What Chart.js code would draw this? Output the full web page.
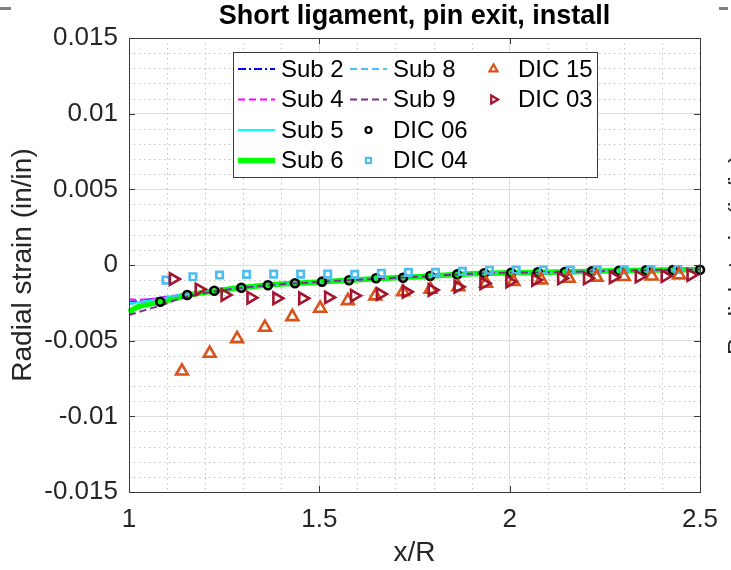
<!DOCTYPE html>
<html>
<head>
<meta charset="utf-8">
<script src="https://cdn.jsdelivr.net/npm/chart.js@4.4.0/dist/chart.umd.min.js"></script>
<style>
  html, body { margin: 0; padding: 0; background: #fff; }
  #wrap { width: 731px; height: 570px; }
</style>
</head>
<body>
<div id="wrap"><canvas id="strainChart" width="731" height="570"></canvas></div>
<script>
// axis ticks
const xTicks = [1, 1.5, 2, 2.5];
const xTickLabels = ['1', '1.5', '2', '2.5'];
const yTicks = [-0.015, -0.01, -0.005, 0, 0.005, 0.01, 0.015];
const yTickLabels = ['-0.015', '-0.01', '-0.005', '0', '0.005', '0.01', '0.015'];

// model curves (Sub runs)
const lineX = [1.00, 1.02, 1.04, 1.06, 1.08, 1.10, 1.13, 1.16, 1.20, 1.25, 1.30, 1.40, 1.50, 1.60, 1.70, 1.80, 1.90, 2.00, 2.10, 2.20, 2.30, 2.40, 2.50];
const sub2 = [-0.00243, -0.0024, -0.00232, -0.00225, -0.00218, -0.0021, -0.00198, -0.00187, -0.00176, -0.00162, -0.00149, -0.00126, -0.00112, -0.00097, -0.00085, -0.00072, -0.00058, -0.00051, -0.00048, -0.00043, -0.00037, -0.00033, -0.0003];
const sub4 = [-0.00228, -0.00229, -0.00228, -0.00224, -0.00219, -0.00211, -0.00199, -0.00188, -0.00176, -0.00162, -0.00149, -0.00126, -0.00112, -0.00097, -0.00085, -0.00072, -0.00058, -0.00051, -0.00048, -0.00043, -0.00037, -0.00033, -0.0003];
const sub5 = [-0.0025, -0.00247, -0.0024, -0.00232, -0.00224, -0.00215, -0.002, -0.00189, -0.00177, -0.00163, -0.00149, -0.00126, -0.00112, -0.00097, -0.00085, -0.00072, -0.00058, -0.00051, -0.00048, -0.00043, -0.00037, -0.00033, -0.0003];
const sub6 = [-0.0031, -0.0028, -0.00265, -0.00255, -0.00245, -0.00233, -0.00215, -0.00198, -0.0018, -0.00163, -0.00149, -0.00126, -0.00112, -0.00097, -0.00085, -0.00072, -0.00058, -0.00051, -0.00048, -0.00043, -0.00037, -0.00033, -0.0003];
const sub8 = [-0.0026, -0.00252, -0.00244, -0.00235, -0.00226, -0.00216, -0.00201, -0.0019, -0.00178, -0.00163, -0.00149, -0.00126, -0.00112, -0.00097, -0.00085, -0.00072, -0.00058, -0.00051, -0.00048, -0.00043, -0.00037, -0.00033, -0.0003];
const sub9 = [-0.0033, -0.00315, -0.003, -0.00285, -0.0027, -0.00253, -0.00225, -0.00205, -0.00185, -0.00165, -0.0015, -0.00127, -0.00112, -0.00097, -0.00085, -0.00072, -0.00058, -0.00051, -0.00048, -0.00043, -0.00037, -0.00033, -0.0003];

// DIC measurements
const dic06X = [1.082, 1.153, 1.224, 1.295, 1.365, 1.436, 1.507, 1.578, 1.649, 1.720, 1.791, 1.862, 1.933, 2.004, 2.074, 2.145, 2.216, 2.287, 2.358, 2.429, 2.500];
const dic06 = [-0.00243, -0.00198, -0.0017, -0.0015, -0.00134, -0.00121, -0.0011, -0.00101, -0.00088, -0.00084, -0.00073, -0.00062, -0.00055, -0.00051, -0.00048, -0.00046, -0.00042, -0.00038, -0.00035, -0.00033, -0.00031];
const dic04X = [1.097, 1.168, 1.238, 1.309, 1.380, 1.451, 1.522, 1.593, 1.663, 1.734, 1.805, 1.876, 1.947, 2.017, 2.088, 2.159, 2.230, 2.301, 2.371, 2.442];
const dic04 = [-0.001, -0.00078, -0.00066, -0.00062, -0.0006, -0.0006, -0.0006, -0.00062, -0.00055, -0.00049, -0.00049, -0.00042, -0.00035, -0.00033, -0.00033, -0.00033, -0.00032, -0.00032, -0.0003, -0.0003];
const dic15X = [1.139, 1.212, 1.284, 1.357, 1.429, 1.502, 1.575, 1.647, 1.720, 1.792, 1.865, 1.938, 2.010, 2.083, 2.155, 2.228, 2.300, 2.373, 2.445];
const dic15 = [-0.00701, -0.00584, -0.00487, -0.00412, -0.00342, -0.00286, -0.00236, -0.00205, -0.00177, -0.00161, -0.00144, -0.00121, -0.0011, -0.00099, -0.00088, -0.00081, -0.00077, -0.00073, -0.00066];
const dic03X = [1.116, 1.184, 1.252, 1.320, 1.388, 1.456, 1.524, 1.592, 1.660, 1.728, 1.796, 1.864, 1.932, 2.000, 2.068, 2.136, 2.204, 2.272, 2.340, 2.408, 2.476];
const dic03 = [-0.00093, -0.00161, -0.00198, -0.00216, -0.0022, -0.0022, -0.00214, -0.00203, -0.00192, -0.00177, -0.00165, -0.00144, -0.00121, -0.0011, -0.00099, -0.00088, -0.00088, -0.00081, -0.00077, -0.00073, -0.00066];

const FONT = "'Liberation Sans', Arial, Helvetica, sans-serif";
Chart.defaults.font.family = FONT;

const pts = (xs, ys) => xs.map((x, i) => ({ x: x, y: ys[i] }));

function curve(label, ys, color, width, dash, order) {
  return {
    label: label, data: pts(lineX, ys), borderColor: color, backgroundColor: color,
    borderWidth: width, borderDash: dash, pointRadius: 0, order: order,
    cubicInterpolationMode: 'monotone', clip: false
  };
}
function markers(label, xs, ys, color, style, radius, rotation, order) {
  return {
    label: label, data: pts(xs, ys), showLine: false, borderColor: color,
    backgroundColor: 'rgba(0,0,0,0)', pointBorderColor: color, pointBackgroundColor: 'rgba(0,0,0,0)',
    pointStyle: style, pointRadius: radius, pointRotation: rotation, pointBorderWidth: 2.6,
    order: order, clip: false
  };
}

const datasets = [
  curve('Sub 2', sub2, '#0000ff', 2, [8, 3, 2, 3], 10),
  curve('Sub 4', sub4, '#ff00ff', 2, [7, 4], 9),
  curve('Sub 5', sub5, '#00ffff', 2, [], 8),
  curve('Sub 6', sub6, '#00ff00', 5.5, [], 7),
  curve('Sub 8', sub8, '#4dbeee', 2, [7, 4], 6),
  curve('Sub 9', sub9, '#7e2f8e', 2, [7, 4], 5),
  markers('DIC 06', dic06X, dic06, '#000000', 'circle', 4, 0, 4),
  markers('DIC 04', dic04X, dic04, '#4dbeee', 'rect', 4.6, 0, 3),
  markers('DIC 15', dic15X, dic15, '#d95319', 'triangle', 6.8, 0, 2),
  markers('DIC 03', dic03X, dic03, '#a2142f', 'triangle', 6.6, 90, 1)
];

const legendCols = [['Sub 2', 'Sub 4', 'Sub 5', 'Sub 6'], ['Sub 8', 'Sub 9', 'DIC 06', 'DIC 04'], ['DIC 15', 'DIC 03']];

const matlabLook = {
  id: 'matlabLook',
  beforeDatasetsDraw(chart) {
    const { ctx, chartArea: a, scales: { x, y } } = chart;
    ctx.save();
    ctx.strokeStyle = '#c4c4c4';
    ctx.lineWidth = 1;
    ctx.setLineDash([1.5, 3.5]);
    ctx.beginPath();
    for (let v = 1.1; v < 2.5; v += 0.1) {
      if (Math.abs(v * 2 - Math.round(v * 2)) < 1e-6) continue;
      const px = Math.round(x.getPixelForValue(v)) + 0.5;
      ctx.moveTo(px, a.top); ctx.lineTo(px, a.bottom);
    }
    for (let k = -14; k <= 14; k++) {
      if (k % 5 === 0) continue;
      const py = Math.round(y.getPixelForValue(k / 1000)) + 0.5;
      ctx.moveTo(a.left, py); ctx.lineTo(a.right, py);
    }
    ctx.stroke();
    ctx.restore();
  },
  afterDatasetsDraw(chart) {
    const { ctx, chartArea: a, scales: { x, y } } = chart;
    ctx.save();
    // axes box + inner ticks
    ctx.strokeStyle = '#3a3a3a';
    ctx.lineWidth = 1;
    ctx.strokeRect(Math.round(a.left) + 0.5, Math.round(a.top) + 0.5, Math.round(a.right - a.left), Math.round(a.bottom - a.top));
    ctx.beginPath();
    xTicks.forEach(v => {
      const px = Math.round(x.getPixelForValue(v)) + 0.5;
      ctx.moveTo(px, a.bottom); ctx.lineTo(px, a.bottom - 6);
      ctx.moveTo(px, a.top); ctx.lineTo(px, a.top + 6);
    });
    yTicks.forEach(v => {
      const py = Math.round(y.getPixelForValue(v)) + 0.5;
      ctx.moveTo(a.left, py); ctx.lineTo(a.left + 6, py);
      ctx.moveTo(a.right, py); ctx.lineTo(a.right - 6, py);
    });
    ctx.stroke();

    // legend
    const bx = 233.5, by = 52.5, bw = 364, bh = 125;
    ctx.fillStyle = '#ffffff';
    ctx.fillRect(bx, by, bw, bh);
    ctx.strokeStyle = '#3a3a3a';
    ctx.strokeRect(bx, by, bw, bh);
    const colX = [238, 350, 475];
    ctx.font = '24px ' + FONT;
    ctx.textBaseline = 'middle';
    ctx.textAlign = 'left';
    legendCols.forEach((col, c) => {
      col.forEach((name, r) => {
        const ds = chart.data.datasets.find(d => d.label === name);
        const xs = colX[c], yc = 69 + r * 30.5;
        if (ds.showLine === false) {
          ctx.save();
          ctx.strokeStyle = ds.pointBorderColor;
          ctx.fillStyle = 'rgba(0,0,0,0)';
          ctx.lineWidth = 2.2;
          const rad = ds.pointStyle === 'circle' ? 3 : ds.pointStyle === 'rect' ? 3.6 : 4.6;
          Chart.helpers.drawPoint(ctx, { pointStyle: ds.pointStyle, radius: rad, rotation: ds.pointRotation, borderWidth: 2.2 }, xs + 18.5, yc);
          ctx.restore();
        } else {
          ctx.save();
          ctx.strokeStyle = ds.borderColor;
          ctx.lineWidth = ds.borderWidth;
          ctx.setLineDash(ds.borderDash);
          ctx.beginPath();
          ctx.moveTo(xs, yc); ctx.lineTo(xs + 37, yc);
          ctx.stroke();
          ctx.restore();
        }
        ctx.fillStyle = '#000000';
        ctx.fillText(name, xs + 43, yc + 1);
      });
    });

    // bits of the neighbouring subplots at the image edges
    ctx.fillStyle = '#808080';
    ctx.fillRect(0, 7, 11, 3);
    ctx.fillRect(719, 7, 9, 3);
    ctx.translate(738, 255);
    ctx.rotate(-Math.PI / 2);
    ctx.fillStyle = '#262626';
    ctx.textAlign = 'center';
    ctx.font = '24px ' + FONT;
    ctx.fillText('Radial strain (in/in)', 0, 0);
    ctx.restore();
  }
};

new Chart(document.getElementById('strainChart').getContext('2d'), {
  type: 'line',
  data: { datasets: datasets },
  options: {
    responsive: false,
    devicePixelRatio: 1,
    animation: false,
    layout: { padding: { left: 0, right: 31, top: 0, bottom: 0 } },
    plugins: {
      legend: { display: false },
      tooltip: { enabled: false },
      title: {
        display: true,
        text: 'Short ligament, pin exit, install',
        fullSize: false,
        color: '#000000',
        font: { size: 27, weight: 'bold' },
        padding: { top: 0, bottom: 5.6 }
      }
    },
    scales: {
      x: {
        type: 'linear', min: 1, max: 2.5,
        afterBuildTicks: s => { s.ticks = xTicks.map(v => ({ value: v })); },
        afterFit: s => { s.height = 78; },
        grid: { color: '#dedede', lineWidth: 1, drawTicks: false },
        border: { display: false },
        ticks: { color: '#262626', font: { size: 26 }, padding: 12, maxRotation: 0, callback: (v, i) => xTickLabels[i] },
        title: { display: true, text: 'x/R', color: '#262626', font: { size: 28 }, padding: { top: 0, bottom: 0 } }
      },
      y: {
        type: 'linear', min: -0.015, max: 0.015,
        afterBuildTicks: s => { s.ticks = yTicks.map(v => ({ value: v })); },
        afterFit: s => { s.width = 129; },
        grid: { color: '#dedede', lineWidth: 1, drawTicks: false },
        border: { display: false },
        ticks: { color: '#262626', font: { size: 26 }, padding: 11, callback: (v, i) => yTickLabels[i] },
        title: { display: true, text: 'Radial strain (in/in)', color: '#262626', font: { size: 28 }, padding: { top: 6.5, bottom: 0 } }
      }
    }
  },
  plugins: [matlabLook]
});
</script>
</body>
</html>
